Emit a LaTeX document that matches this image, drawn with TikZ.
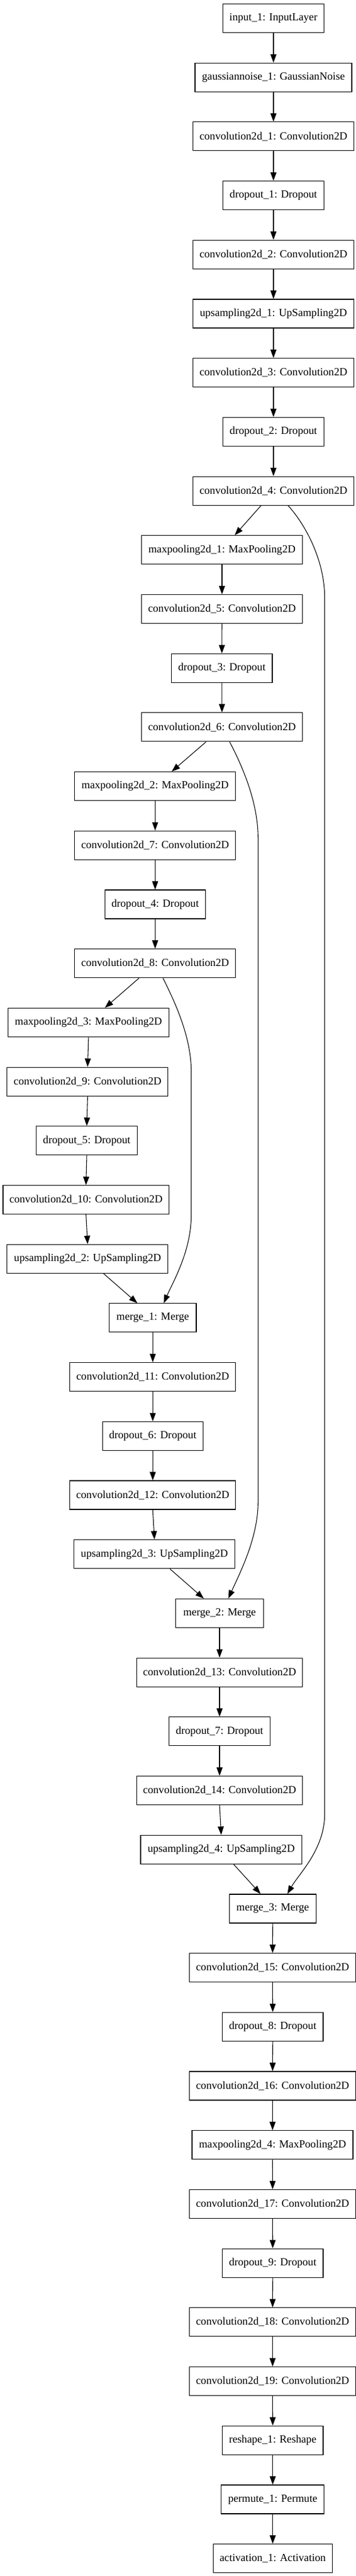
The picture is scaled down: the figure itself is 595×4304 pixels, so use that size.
\documentclass[tikz,border=0pt]{standalone}
\usepackage{fontspec}
\setmainfont{Liberation Serif}
\usetikzlibrary{arrows.meta,calc}
\newcommand\lfont{\fontsize{13.6}{16}\selectfont}
\newcommand\lay[5]{\node[layer, minimum width={#3*0.75pt}] (#1) at (#2,{30.5+(#4-1)*98.7}) {#5};}
\begin{document}
\begin{tikzpicture}[x=0.75pt,y=-0.75pt,
  layer/.style={draw, rectangle, line width=0.85pt, inner sep=0pt, minimum height=36pt, font=\lfont},
  edge/.style={line width=0.8pt, -{Triangle[length=10.5pt,width=7.5pt]}}]
\fill[white] (0,0) rectangle (595,4304);
\useasboundingbox (0,0) rectangle (595,4304);
\lay{in1}{457}{169}{1}{input\_1: InputLayer}
\lay{gn1}{457}{262}{2}{gaussiannoise\_1: GaussianNoise}
\lay{c1}{457}{269}{3}{convolution2d\_1: Convolution2D}
\lay{d1}{457}{169}{4}{dropout\_1: Dropout}
\lay{c2}{457}{269}{5}{convolution2d\_2: Convolution2D}
\lay{u1}{457}{269}{6}{upsampling2d\_1: UpSampling2D}
\lay{c3}{457}{269}{7}{convolution2d\_3: Convolution2D}
\lay{d2}{457}{169}{8}{dropout\_2: Dropout}
\lay{c4}{457}{269}{9}{convolution2d\_4: Convolution2D}
\lay{mp1}{371}{269}{10}{maxpooling2d\_1: MaxPooling2D}
\lay{c5}{371}{269}{11}{convolution2d\_5: Convolution2D}
\lay{d3}{370.8}{168.4}{12}{dropout\_3: Dropout}
\lay{c6}{371}{269}{13}{convolution2d\_6: Convolution2D}
\lay{mp2}{259.3}{269}{14}{maxpooling2d\_2: MaxPooling2D}
\lay{c7}{259.3}{269}{15}{convolution2d\_7: Convolution2D}
\lay{d4}{259.3}{168}{16}{dropout\_4: Dropout}
\lay{c8}{259.3}{269}{17}{convolution2d\_8: Convolution2D}
\lay{mp3}{147.9}{269}{18}{maxpooling2d\_3: MaxPooling2D}
\lay{c9}{146.4}{269}{19}{convolution2d\_9: Convolution2D}
\lay{d5}{145}{168.4}{20}{dropout\_5: Dropout}
\lay{c10}{143.7}{277.4}{21}{convolution2d\_10: Convolution2D}
\lay{u2}{146.4}{269}{22}{upsampling2d\_2: UpSampling2D}
\lay{m1}{255.3}{145.4}{23}{merge\_1: Merge}
\lay{c11}{255.3}{277.1}{24}{convolution2d\_11: Convolution2D}
\lay{d6}{255.3}{168.4}{25}{dropout\_6: Dropout}
\lay{c12}{255.3}{277.1}{26}{convolution2d\_12: Convolution2D}
\lay{u3}{258.1}{269}{27}{upsampling2d\_3: UpSampling2D}
\lay{m2}{367}{146.2}{28}{merge\_2: Merge}
\lay{c13}{367}{277}{29}{convolution2d\_13: Convolution2D}
\lay{d7}{367}{168.4}{30}{dropout\_7: Dropout}
\lay{c14}{367}{277}{31}{convolution2d\_14: Convolution2D}
\lay{u4}{369.7}{269.4}{32}{upsampling2d\_4: UpSampling2D}
\lay{m3}{455.8}{145.4}{33}{merge\_3: Merge}
\lay{c15}{455.6}{277.4}{34}{convolution2d\_15: Convolution2D}
\lay{d8}{455.8}{168.4}{35}{dropout\_8: Dropout}
\lay{c16}{455.6}{277.4}{36}{convolution2d\_16: Convolution2D}
\lay{mp4}{455.5}{269}{37}{maxpooling2d\_4: MaxPooling2D}
\lay{c17}{455.6}{277.4}{38}{convolution2d\_17: Convolution2D}
\lay{d9}{455.8}{168.4}{39}{dropout\_9: Dropout}
\lay{c18}{455.6}{277.4}{40}{convolution2d\_18: Convolution2D}
\lay{c19}{455.6}{277.4}{41}{convolution2d\_19: Convolution2D}
\lay{rs1}{455.8}{168.4}{42}{reshape\_1: Reshape}
\lay{pm1}{455.8}{172.2}{43}{permute\_1: Permute}
\lay{ac1}{455.8}{199}{44}{activation\_1: Activation}
% straight chain edges
\foreach \a/\b in {in1/gn1,gn1/c1,c1/d1,d1/c2,c2/u1,u1/c3,c3/d2,d2/c4,
  mp1/c5,c5/d3,d3/c6,mp2/c7,c7/d4,d4/c8,mp3/c9,c9/d5,d5/c10,c10/u2,
  m1/c11,c11/d6,d6/c12,c12/u3,m2/c13,c13/d7,d7/c14,c14/u4,
  m3/c15,c15/d8,d8/c16,c16/mp4,mp4/c17,c17/d9,d9/c18,c18/c19,c19/rs1,rs1/pm1,pm1/ac1}
  \draw[edge] (\a.south) -- (\b.north);
% diagonal edges
\draw[edge] ($(c4.south)+(-20.7,0)$) -- ($(mp1.north)+(21.3,0)$);
\draw[edge] ($(c6.south)+(-26.6,0)$) -- ($(mp2.north)+(27.7,0)$);
\draw[edge] ($(c8.south)+(-27,0)$) -- ($(mp3.north)+(27.4,0)$);
\draw[edge] ($(u2.south)+(26.6,0)$) -- ($(m1.north)+(-25.7,0)$);
\draw[edge] ($(u3.south)+(25.9,0)$) -- ($(m2.north)+(-26.4,0)$);
\draw[edge] ($(u4.south)+(20.7,0)$) -- ($(m3.north)+(-20.3,0)$);
% skip connections
\draw[edge] ($(c4.south)+(24.4,0)$) .. controls (505,870) and (542.7,930) .. (542.7,1000)
  -- (542.7,3030) .. controls (542.7,3090) and (500,3130) .. ($(m3.north)+(24.5,0)$);
\draw[edge] ($(c6.south)+(12.8,0)$) .. controls (405,1280) and (431.3,1340) .. (431.3,1400)
  -- (431.3,2510) .. controls (431.3,2570) and (400,2630) .. ($(m2.north)+(14.6,0)$);
\draw[edge] ($(c8.south)+(13.2,0)$) .. controls (290,1670) and (319.6,1730) .. (319.6,1790)
  -- (319.6,2030) .. controls (319.6,2090) and (290,2140) .. ($(m1.north)+(18.3,0)$);
\end{tikzpicture}
\end{document}
